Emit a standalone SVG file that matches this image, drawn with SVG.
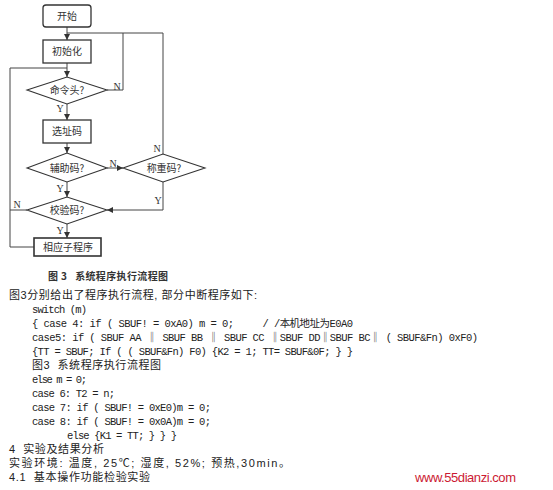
<svg xmlns="http://www.w3.org/2000/svg" width="553" height="490" viewBox="0 0 553 490">
<style>
.box{fill:#fff;stroke:#333;stroke-width:1.3}
.dia{fill:#fff;stroke:#333;stroke-width:1.1}
.lbl{font-family:"Noto Sans CJK SC",sans-serif;font-size:10px;fill:#333;text-anchor:middle}
.yn{font-family:"Liberation Serif",serif;font-size:10px;fill:#333;text-anchor:middle}
.ln{fill:none;stroke:#444;stroke-width:1}
.cap{font-family:"Noto Sans CJK SC",sans-serif;font-size:10px;font-weight:bold;fill:#333;white-space:pre}
.body{font-family:"Liberation Mono","Noto Sans CJK SC",monospace;font-size:10.5px;fill:#222;white-space:pre}
.cn{font-family:"Liberation Sans","Noto Sans CJK SC",sans-serif;font-size:11px;fill:#222;white-space:pre}
.web{font-family:"Liberation Sans",Arial,sans-serif;font-size:13px;fill:#cc1a33}
</style>
<defs>
<marker id="ah" viewBox="0 0 6 6" refX="6" refY="3" markerWidth="6" markerHeight="6" markerUnits="userSpaceOnUse" orient="auto">
<path d="M0,0 L6,3 L0,6 z" fill="#333"/>
</marker>
</defs>
<rect width="553" height="490" fill="#fff"/>
<g id="connectors">
<path class="ln" d="M67,27 V40" marker-end="url(#ah)"/>
<path class="ln" d="M107,90 H123 V33 H67"/>
<path class="ln" d="M163,154 V33 H123"/>
<path class="ln" d="M67,63 V77" marker-end="url(#ah)"/>
<path class="ln" d="M34,247 H10 V68 H67"/>
<path class="ln" d="M67,104 V120" marker-end="url(#ah)"/>
<path class="ln" d="M67,143 V153" marker-end="url(#ah)"/>
<path class="ln" d="M107,168 H123" marker-end="url(#ah)"/>
<path class="ln" d="M67,182 V197" marker-end="url(#ah)"/>
<path class="ln" d="M163,182 V210 H107" marker-end="url(#ah)"/>
<path class="ln" d="M27,210 H10"/>
<path class="ln" d="M67,224 V238" marker-end="url(#ah)"/>
<text class="yn" x="117" y="90">N</text>
<text class="yn" x="60" y="112">Y</text>
<text class="yn" x="113" y="167">N</text>
<text class="yn" x="157" y="152">N</text>
<text class="yn" x="60" y="192">Y</text>
<text class="yn" x="158" y="204">Y</text>
<text class="yn" x="17" y="208">N</text>
<text class="yn" x="60" y="234">Y</text>
</g>
<g id="start">
<rect class="box" x="43" y="5" width="48" height="22" rx="3"/>
<text class="lbl" x="67" y="19.5">开始</text>
</g>
<g id="init">
<rect class="box" x="43" y="40" width="48" height="23"/>
<text class="lbl" x="67" y="55">初始化</text>
</g>
<g id="cmdhead">
<polygon class="dia" points="27,90 67,77 107,90 67,104"/>
<text class="lbl" x="67" y="94">命令头?</text>
</g>
<g id="addr">
<rect class="box" x="43" y="120" width="48" height="23"/>
<text class="lbl" x="67" y="135">选址码</text>
</g>
<g id="aux">
<polygon class="dia" points="27,168 67,153 107,168 67,182"/>
<text class="lbl" x="67" y="172">辅助码?</text>
</g>
<g id="weigh">
<polygon class="dia" points="123,168 163,154 205,168 163,182"/>
<text class="lbl" x="164" y="172">称重码?</text>
</g>
<g id="check">
<polygon class="dia" points="27,210 67,197 107,210 67,224"/>
<text class="lbl" x="67" y="214">校验码?</text>
</g>
<g id="sub">
<rect class="box" x="34" y="238" width="67" height="18" style="stroke-width:1.6"/>
<text class="lbl" x="68" y="251">相应子程序</text>
</g>
<text class="cap" x="48" y="280" textLength="120">图 3   系统程序执行流程图</text>
<g id="body">
<text class="cn" x="9" y="299" textLength="248">图3分别给出了程序执行流程, 部分中断程序如下:</text>
<text class="body" x="32" y="313" textLength="55">switch (m)</text>
<text class="body" x="32" y="327" textLength="321">{ case 4: if ( SBUF! = 0xA0) m = 0;     / /本机地址为E0A0</text>
<text class="body" x="32" y="341" textLength="446">case5: if ( SBUF AA ‖ SBUF BB ‖ SBUF CC ‖SBUF DD‖SBUF BC‖ ( SBUF&amp;Fn) 0xF0)</text>
<text class="body" x="32" y="355" textLength="321">{TT = SBUF; If ( ( SBUF&amp;Fn) F0) {K2 = 1; TT= SBUF&amp;0F; } }</text>
<text class="cn" x="32" y="369" textLength="129">图3  系统程序执行流程图</text>
<text class="body" x="32" y="383" textLength="55">else m = 0;</text>
<text class="body" x="32" y="397" textLength="83">case 6: T2 = n;</text>
<text class="body" x="32" y="411" textLength="179">case 7: if ( SBUF! = 0xE0)m = 0;</text>
<text class="body" x="32" y="425" textLength="179">case 8: if ( SBUF! = 0x0A)m = 0;</text>
<text class="body" x="67" y="439" textLength="110">else {K1 = TT; } } }</text>
<text class="cn" x="9" y="453" textLength="95">4  实验及结果分析</text>
<text class="cn" x="9" y="467" textLength="281">实验环境: 温度, 25℃; 湿度, 52%; 预热,30min。</text>
<text class="cn" x="9" y="481" textLength="141">4.1  基本操作功能检验实验</text>
<text class="web" x="415" y="482" textLength="101">www.55dianzi.com</text>
</g>
</svg>
